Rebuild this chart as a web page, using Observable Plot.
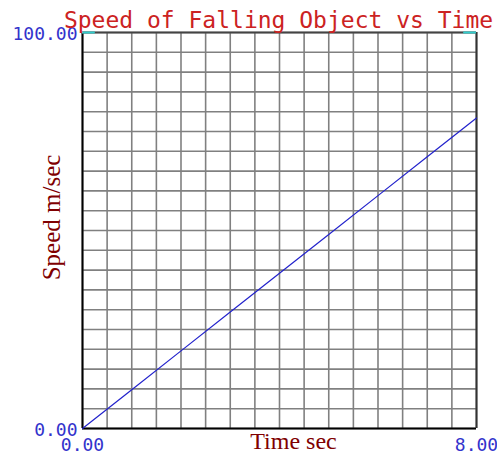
<!DOCTYPE html>
<html>
<head>
<meta charset="utf-8">
<script src="https://cdn.jsdelivr.net/npm/d3@7"></script>
<script src="https://cdn.jsdelivr.net/npm/@observablehq/plot@0.6"></script>
<style>
  html, body { margin: 0; padding: 0; background: #fff; }
</style>
</head>
<body>
<div id="chart"></div>
<script>
// Data
const times  = [0, 1, 2, 3, 4, 5, 6, 7, 8];
const speeds = [0, 9.8, 19.6, 29.4, 39.2, 49.0, 58.8, 68.6, 78.4];
const xGrid = [0,0.5,1,1.5,2,2.5,3,3.5,4,4.5,5,5.5,6,6.5,7,7.5,8];
const yGrid = [0,5,10,15,20,25,30,35,40,45,50,55,60,65,70,75,80,85,90,95,100];
const xTickLabels = [0, 8];
const yTickLabels = [0, 100];
const titleText = "Speed of Falling Object vs Time";
const xLabel = "Time sec";
const yLabel = "Speed m/sec";

const points = times.map((t, i) => ({t, v: speeds[i]}));
const mono = "'DejaVu Sans Mono', 'Liberation Mono', monospace";
const serif = "'Liberation Serif', 'DejaVu Serif', serif";

const chart = Plot.plot({
  width: 497,
  height: 454,
  marginLeft: 82,
  marginRight: 21,
  marginTop: 32,
  marginBottom: 26,
  x: {domain: [0, 8], axis: null},
  y: {domain: [0, 100], axis: null},
  style: {background: "#fff", overflow: "visible"},
  marks: [
    Plot.ruleX(xGrid, {x: d => d, stroke: "#808080", strokeWidth: 1.6}),
    Plot.ruleY(yGrid, {y: d => d, stroke: "#808080", strokeWidth: 1.6}),
    Plot.ruleX([0], {stroke: "#000", strokeWidth: 2}),
    Plot.ruleY([0], {stroke: "#000", strokeWidth: 2}),
    Plot.ruleX([8], {stroke: "#333", strokeWidth: 2}),
    Plot.ruleY([100], {stroke: "#444", strokeWidth: 2}),
    Plot.ruleY([100], {x1: 0, x2: 0.26, stroke: "#33cccc", strokeWidth: 2}),
    Plot.ruleY([100], {x1: 7.74, x2: 8, stroke: "#33cccc", strokeWidth: 2}),
    Plot.line(points, {x: "t", y: "v", stroke: "#2222cc", strokeWidth: 1.2}),
    Plot.text(yTickLabels, {
      x: 0, y: d => d, text: d => d3.format(".2f")(d),
      textAnchor: "end", lineAnchor: "middle", dx: -5, dy: 2,
      fill: "#3333cc", fontFamily: mono, fontSize: 18
    }),
    Plot.text(xTickLabels, {
      x: d => d, y: 0, text: d => d3.format(".2f")(d),
      textAnchor: "middle", lineAnchor: "bottom", dy: 22,
      fill: "#3333cc", fontFamily: mono, fontSize: 18
    }),
    Plot.text([titleText], {
      x: 4, y: 100, text: d => d, dx: -1,
      textAnchor: "middle", lineAnchor: "bottom", dy: -5,
      fill: "#cc2222", fontFamily: mono, fontSize: 23
    }),
    Plot.text([xLabel], {
      x: 4, y: 0, text: d => d, dx: 14, dy: 20,
      textAnchor: "middle", lineAnchor: "bottom",
      fill: "#800000", fontFamily: serif, fontSize: 24
    }),
    Plot.text([yLabel], {
      frameAnchor: "left", y: 50, text: d => d, dx: -23, dy: -13,
      rotate: -90, textAnchor: "middle", lineAnchor: "bottom",
      fill: "#800000", fontFamily: serif, fontSize: 25
    })
  ]
});
document.getElementById("chart").appendChild(chart);
</script>
</body>
</html>
